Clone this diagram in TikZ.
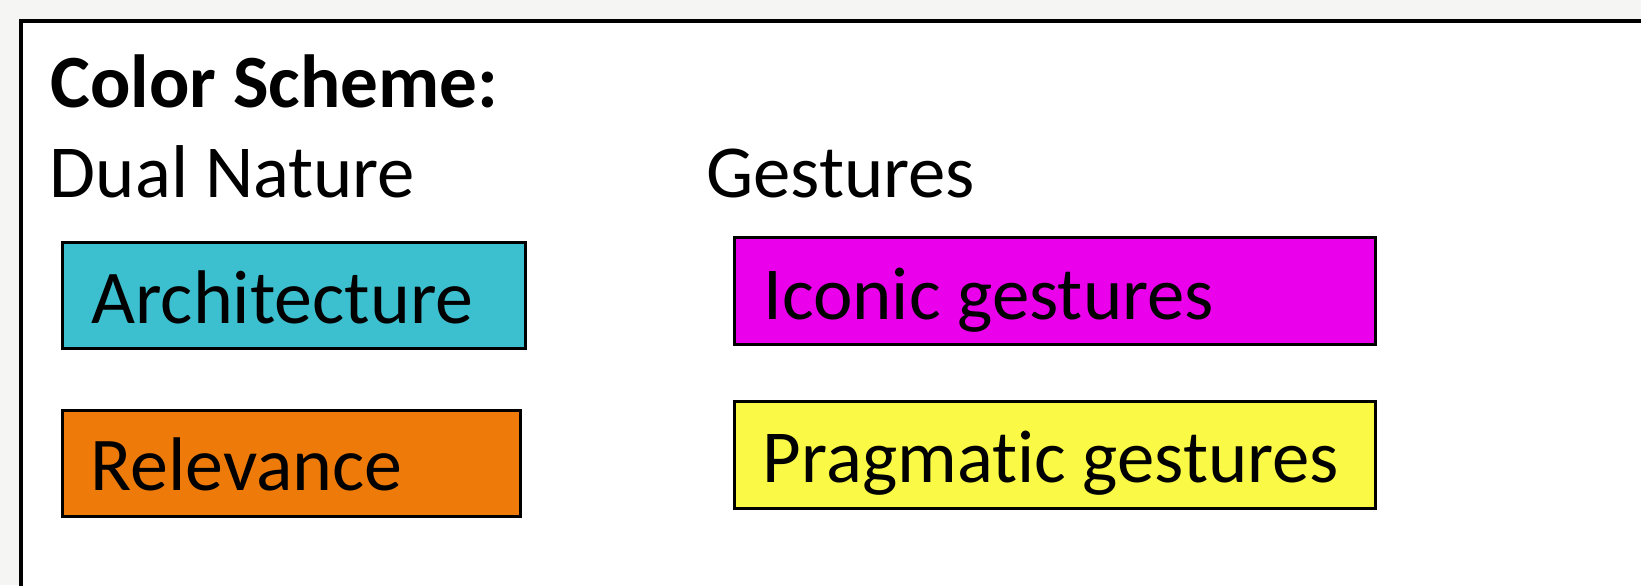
\documentclass[tikz,border=0pt]{standalone}
\usepackage{fontspec}
\setmainfont{Carlito}[Ligatures=NoCommon]
\definecolor{bgc}{HTML}{F5F5F3}
\definecolor{cyanc}{HTML}{3CBFCF}
\definecolor{orangec}{HTML}{EE7A0A}
\definecolor{magc}{HTML}{EA00EA}
\definecolor{yelc}{HTML}{FAFA46}
\tikzset{
  swatch/.style={draw=black, line width=1.5pt},
  head/.style={anchor=base west, inner sep=0pt, font=\fontsize{37.4pt}{42pt}\selectfont},
  lbl/.style={anchor=base west, inner sep=0pt, font=\fontsize{38pt}{44pt}\selectfont},
  lblr/.style={anchor=base west, inner sep=0pt, font=\fontsize{37.4pt}{42pt}\selectfont},
}
\begin{document}
\begin{tikzpicture}[x=0.5pt,y=-0.5pt]
\useasboundingbox (0,0) rectangle (1641,585);
\clip (0,0) rectangle (1641,585);
\fill[bgc] (0,0) rectangle (1641,585);
\draw[fill=white, line width=2pt] (21,20.7) rectangle (1800,800);
\node[head, font=\bfseries\fontsize{37.6pt}{42pt}\selectfont] (title) at (50,107) {Color Scheme:};
\node[head] (dual) at (49.5,197) {Dual Nature};
\node[head] (gest) at (706,197) {Gestures};
\path[swatch, fill=cyanc] (62,242) rectangle (525.7,348.5);
\path[swatch, fill=orangec] (62,410) rectangle (520,516);
\path[swatch, fill=magc] (734,237) rectangle (1375,344.5);
\path[swatch, fill=yelc] (734,401.5) rectangle (1375,508.5);
\node[lbl] (arch) at (91,323) {Architecture};
\node[lbl] (relev) at (90,490.7) {Relevance};
\node[lblr] (icon) at (763,319.3) {Iconic gestures};
\node[lblr] (prag) at (762.5,482.7) {Pragmatic gestures};
\end{tikzpicture}
\end{document}
